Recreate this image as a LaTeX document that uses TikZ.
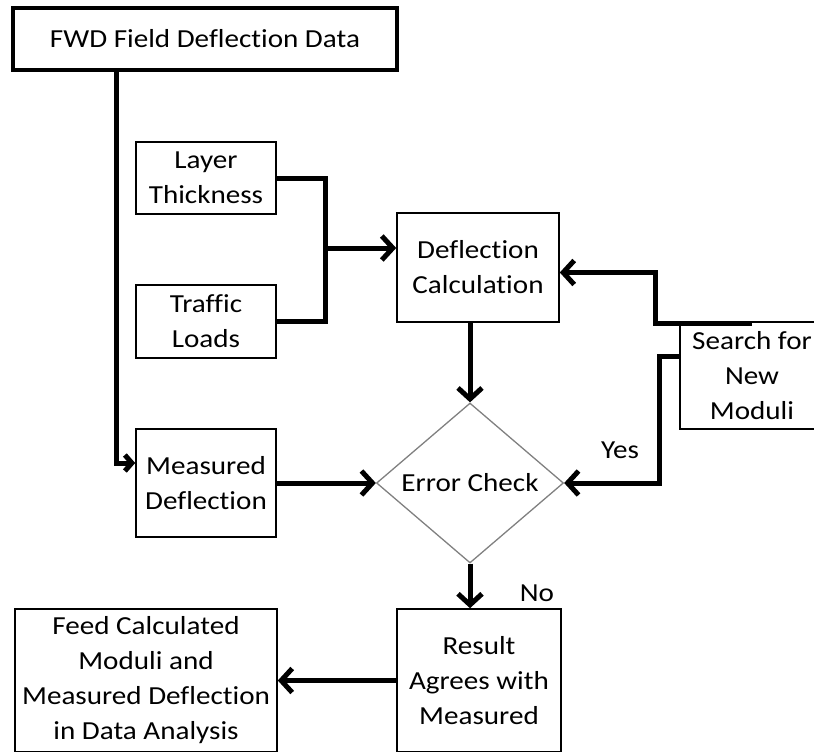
\documentclass[tikz,border=0pt]{standalone}
\usepackage{fontspec}
\setmainfont{Carlito}[FakeStretch=1.12, Ligatures=NoCommon]
\usetikzlibrary{shapes.geometric,arrows.meta,calc}

\begin{document}
\begin{tikzpicture}[x=1pt, y=-1pt,
    every node/.style={font=\fontsize{26}{35}\selectfont, align=center},
    box/.style={draw, line width=1.6pt, inner sep=0pt},
    conn/.style={line width=5pt, -{Straight Barb[length=11pt, width=24pt]}},
    joinline/.style={line width=5pt}]
    \useasboundingbox (0,0) rectangle (814,752);

    \node[box, line width=3.5pt, minimum width=384pt, minimum height=62pt] (fwd) at (205,39)
        {FWD Field Deflection Data};
    \node[box, minimum width=140pt, minimum height=72pt] (layer) at (206,178)
        {Layer\\Thickness};
    \node[box, minimum width=140pt, minimum height=73pt] (traffic) at (206,321.5)
        {Traffic\\Loads};
    \node[box, minimum width=140pt, minimum height=108pt] (meas) at (206,483)
        {Measured\\Deflection};
    \node[box, minimum width=162pt, minimum height=109pt] (calc) at (478,267.5)
        {Deflection\\Calculation};
    \node[draw=gray, line width=1.3pt, shape=diamond, inner sep=0pt, minimum width=187pt, minimum height=160pt] (check) at (470,483)
        {Error Check};
    \node[box, minimum width=144pt, minimum height=107pt] (search) at (752,375.5)
        {Search for\\New\\Moduli};
    \node[box, minimum width=164pt, minimum height=143pt] (result) at (479,680.5)
        {Result\\Agrees with\\Measured};
    \node[box, minimum width=262pt, minimum height=143pt] (feed) at (146,680.5)
        {Feed Calculated\\Moduli and\\Measured Deflection\\in Data Analysis};
    \node (yes) at (620,450) {Yes};
    \node (no) at (537,593) {No};

    \coordinate (merge) at (325,248);

    \draw[line width=5pt, -{Straight Barb[length=7pt, width=16pt]}] ([xshift=105pt] fwd.south west) |- ([yshift=20pt] meas.west);
    \draw[joinline] (layer.east) -| (merge) |- (traffic.east);
    \draw[conn] (merge) -- (merge -| calc.west);
    \draw[conn] (calc.south -| check.north) -- (check.north);
    \draw[conn] ([yshift=-2pt] search.north) -- ++(-97,0) |- ([yshift=-5pt] calc.east);
    \draw[conn] ([yshift=19pt] search.west) -- ++(-20,0) |- (check.east);
    \draw[conn] (meas.east) -- (check.west);
    \draw[conn] (check.south) -- (check.south |- result.north);
    \draw[conn] (result.west) -- (feed.east);
\end{tikzpicture}
\end{document}
